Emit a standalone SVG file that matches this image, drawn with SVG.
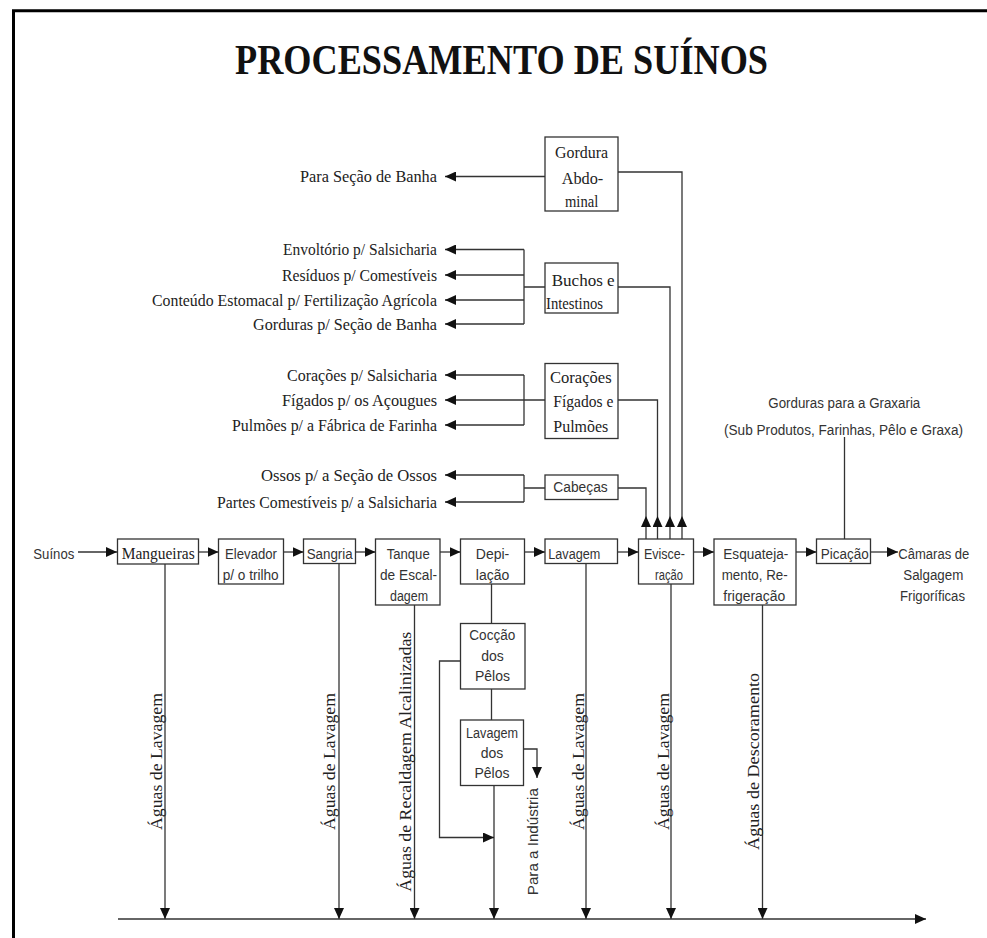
<svg xmlns="http://www.w3.org/2000/svg" width="987" height="938" viewBox="0 0 987 938">
<style>
.bx{fill:#fff;stroke:#333;stroke-width:1.3}
.ln{fill:none;stroke:#333;stroke-width:1.3}
.ar{fill:none;stroke:#333;stroke-width:1.3;marker-end:url(#ah)}
.s{font-family:"Liberation Sans",Arial,sans-serif;font-size:14px;fill:#333}
.r{font-family:"Liberation Serif","Times New Roman",serif;font-size:16.5px;fill:#222}
.e{text-anchor:end}
.m{text-anchor:middle}
</style>
<defs>
<marker id="ah" markerWidth="11" markerHeight="10" refX="11" refY="5" orient="auto" markerUnits="userSpaceOnUse"><path d="M0,0 L11,5 L0,10 z" fill="#111"/></marker>
</defs>
<rect width="987" height="938" fill="#fff"/>
<path d="M13.5,938 V10.8 H987" fill="none" stroke="#000" stroke-width="3"/>
<text x="235" y="73.5" textLength="533" lengthAdjust="spacingAndGlyphs" style="font-family:'Liberation Serif','Times New Roman',serif;font-weight:bold;font-size:43px;fill:#111">PROCESSAMENTO DE SUÍNOS</text>

<g id="connectors">
<path class="ar" d="M78,552 H117"/>
<path class="ar" d="M198,552 H218.5"/>
<path class="ar" d="M283.5,552 H303.5"/>
<path class="ar" d="M355.5,552 H375.5"/>
<path class="ar" d="M440,552 H460.5"/>
<path class="ar" d="M524.5,552 H545"/>
<path class="ar" d="M617.5,552 H638.5"/>
<path class="ar" d="M693.5,552 H714"/>
<path class="ar" d="M796,552 H816.5"/>
<path class="ar" d="M870.5,552 H898"/>
<path class="ar" d="M165,564 V919"/>
<path class="ar" d="M339,563.5 V919"/>
<path class="ar" d="M414.5,605 V919"/>
<path class="ar" d="M494,785.5 V919"/>
<path class="ar" d="M586,563.5 V919"/>
<path class="ar" d="M671,584 V919"/>
<path class="ar" d="M762.5,605 V919"/>
<path class="ar" d="M118,919 H926"/>
<path class="ln" d="M491.5,584 V623.5"/>
<path class="ln" d="M491.5,689 V720"/>
<path class="ar" d="M460.5,661 H439.5 V837.5 H494"/>
<path class="ar" d="M523.5,749 H537 V778"/>
<path class="ln" d="M844.5,539 V437"/>
<path class="ar" d="M545,176.5 H445"/>
<path class="ln" d="M545,287 H524 M524,249.5 V324"/>
<path class="ar" d="M524,249.5 H445"/>
<path class="ar" d="M524,275 H445"/>
<path class="ar" d="M524,300 H445"/>
<path class="ar" d="M524,324 H445"/>
<path class="ln" d="M524,375 V425"/>
<path class="ar" d="M545,400 H445"/>
<path class="ar" d="M524,375 H445"/>
<path class="ar" d="M524,425 H445"/>
<path class="ln" d="M545,488 H524 M524,475 V502"/>
<path class="ar" d="M524,475 H445"/>
<path class="ar" d="M524,502 H445"/>
<path class="ln" d="M618,172 H682 V516"/>
<path class="ar" d="M682,539 V516"/>
<path class="ln" d="M618,287 H670 V516"/>
<path class="ar" d="M670,539 V516"/>
<path class="ln" d="M618,400 H657.5 V516"/>
<path class="ar" d="M657.5,539 V516"/>
<path class="ln" d="M618,488 H646 V516"/>
<path class="ar" d="M646,539 V516"/>
</g>

<g id="suinos"><text class="s" x="33.3" y="559" textLength="41" lengthAdjust="spacingAndGlyphs">Suínos</text></g>
<g id="mangueiras"><rect class="bx" x="117.5" y="539" width="81" height="25"/><text class="r" x="121.7" y="559" textLength="73" lengthAdjust="spacingAndGlyphs">Mangueiras</text></g>
<g id="elevador"><rect class="bx" x="218.5" y="539" width="65" height="45"/><text class="s" x="225" y="559" textLength="52" lengthAdjust="spacingAndGlyphs">Elevador</text><text class="s" x="222.7" y="580" textLength="56" lengthAdjust="spacingAndGlyphs">p/ o trilho</text></g>
<g id="sangria"><rect class="bx" x="303.5" y="539" width="52" height="24.5"/><text class="s" x="306.7" y="559" textLength="46" lengthAdjust="spacingAndGlyphs">Sangria</text></g>
<g id="tanque"><rect class="bx" x="375.5" y="539" width="64.5" height="66"/><text class="s" x="386.7" y="559" textLength="43" lengthAdjust="spacingAndGlyphs">Tanque</text><text class="s" x="380" y="580" textLength="57" lengthAdjust="spacingAndGlyphs">de Escal-</text><text class="s" x="390" y="600.5" textLength="38" lengthAdjust="spacingAndGlyphs">dagem</text></g>
<g id="depilacao"><rect class="bx" x="460.5" y="539" width="64" height="45"/><text class="s m" x="492.5" y="559">Depi-</text><text class="s m" x="492.5" y="580">lação</text></g>
<g id="lavagem"><rect class="bx" x="545" y="539" width="72.5" height="24.5"/><text class="s" x="548.3" y="559" textLength="52" lengthAdjust="spacingAndGlyphs">Lavagem</text></g>
<g id="evisceracao"><rect class="bx" x="638.5" y="539" width="55" height="45"/><text class="s" x="644" y="559" textLength="41" lengthAdjust="spacingAndGlyphs">Evisce-</text><text class="s" x="655" y="580" textLength="28" lengthAdjust="spacingAndGlyphs">ração</text></g>
<g id="esquatejamento"><rect class="bx" x="714" y="539" width="82" height="66"/><text class="s" x="723.3" y="559" textLength="65" lengthAdjust="spacingAndGlyphs">Esquateja-</text><text class="s" x="721.7" y="580" textLength="66" lengthAdjust="spacingAndGlyphs">mento, Re-</text><text class="s" x="723.3" y="600.5" textLength="62" lengthAdjust="spacingAndGlyphs">frigeração</text></g>
<g id="picacao"><rect class="bx" x="816.5" y="539" width="54" height="24.5"/><text class="s" x="820.7" y="559" textLength="48" lengthAdjust="spacingAndGlyphs">Picação</text></g>
<g id="camaras"><text class="s" x="898.3" y="559" textLength="71" lengthAdjust="spacingAndGlyphs">Câmaras de</text><text class="s" x="903.3" y="580" textLength="60" lengthAdjust="spacingAndGlyphs">Salgagem</text><text class="s" x="900" y="600.5" textLength="65" lengthAdjust="spacingAndGlyphs">Frigoríficas</text></g>
<g id="graxaria"><text class="s" x="768.3" y="408" textLength="152" lengthAdjust="spacingAndGlyphs">Gorduras para a Graxaria</text><text class="s" x="724" y="435" textLength="239" lengthAdjust="spacingAndGlyphs">(Sub Produtos, Farinhas, Pêlo e Graxa)</text></g>
<g id="coccao"><rect class="bx" x="460.5" y="623.5" width="64.5" height="65.5"/><text class="s" x="469.3" y="640" textLength="46" lengthAdjust="spacingAndGlyphs">Cocção</text><text class="s m" x="492.5" y="660.5">dos</text><text class="s m" x="492.5" y="680.5">Pêlos</text></g>
<g id="lavagem-pelos"><rect class="bx" x="460.5" y="720" width="63" height="65.5"/><text class="s" x="466" y="737.5" textLength="52" lengthAdjust="spacingAndGlyphs">Lavagem</text><text class="s m" x="492" y="757.5">dos</text><text class="s m" x="492" y="777.5">Pêlos</text></g>
<g id="gordura"><rect class="bx" x="545" y="137" width="73" height="74"/><text class="r" x="555" y="158" textLength="53" lengthAdjust="spacingAndGlyphs">Gordura</text><text class="r" x="561.7" y="184" textLength="41.6" lengthAdjust="spacingAndGlyphs">Abdo-</text><text class="r" x="565" y="207" textLength="33.3" lengthAdjust="spacingAndGlyphs">minal</text></g>
<g id="buchos"><rect class="bx" x="545" y="263" width="73" height="50"/><text class="r" x="551.7" y="286" textLength="63" lengthAdjust="spacingAndGlyphs">Buchos e</text><text class="r" x="546" y="309" textLength="57" lengthAdjust="spacingAndGlyphs">Intestinos</text></g>
<g id="coracoes"><rect class="bx" x="545" y="363.5" width="73" height="75"/><text class="r" x="550" y="383" textLength="61.7" lengthAdjust="spacingAndGlyphs">Corações</text><text class="r" x="553.3" y="407" textLength="60" lengthAdjust="spacingAndGlyphs">Fígados e</text><text class="r" x="553.3" y="432" textLength="55" lengthAdjust="spacingAndGlyphs">Pulmões</text></g>
<g id="cabecas"><rect class="bx" x="545" y="475" width="73" height="24.5"/><text class="s" x="553.3" y="492" textLength="54.4" lengthAdjust="spacingAndGlyphs">Cabeças</text></g>

<g id="labels">
<text class="r e" x="437" y="182" textLength="137" lengthAdjust="spacingAndGlyphs">Para Seção de Banha</text>
<text class="r e" x="437" y="255" textLength="154" lengthAdjust="spacingAndGlyphs">Envoltório p/ Salsicharia</text>
<text class="r e" x="437" y="280.5" textLength="155" lengthAdjust="spacingAndGlyphs">Resíduos p/ Comestíveis</text>
<text class="r e" x="437" y="305.5" textLength="285" lengthAdjust="spacingAndGlyphs">Conteúdo Estomacal p/ Fertilização Agrícola</text>
<text class="r e" x="437" y="329.5" textLength="184" lengthAdjust="spacingAndGlyphs">Gorduras p/ Seção de Banha</text>
<text class="r e" x="437" y="380.5" textLength="150" lengthAdjust="spacingAndGlyphs">Corações p/ Salsicharia</text>
<text class="r e" x="437" y="405.5" textLength="155" lengthAdjust="spacingAndGlyphs">Fígados p/ os Açougues</text>
<text class="r e" x="437" y="430.5" textLength="205" lengthAdjust="spacingAndGlyphs">Pulmões p/ a Fábrica de Farinha</text>
<text class="r e" x="437" y="480.5" textLength="176" lengthAdjust="spacingAndGlyphs">Ossos p/ a Seção de Ossos</text>
<text class="r e" x="437" y="507.5" textLength="220" lengthAdjust="spacingAndGlyphs">Partes Comestíveis p/ a Salsicharia</text>
<text class="r m" transform="translate(162,761.5) rotate(-90)" textLength="137" lengthAdjust="spacingAndGlyphs">Águas de Lavagem</text>
<text class="r m" transform="translate(335,761.5) rotate(-90)" textLength="137" lengthAdjust="spacingAndGlyphs">Águas de Lavagem</text>
<text class="r m" transform="translate(411,761.7) rotate(-90)" textLength="260" lengthAdjust="spacingAndGlyphs">Águas de Recaldagem Alcalinizadas</text>
<text class="r m" transform="translate(583.5,761.5) rotate(-90)" textLength="137" lengthAdjust="spacingAndGlyphs">Águas de Lavagem</text>
<text class="r m" transform="translate(668.5,761.5) rotate(-90)" textLength="137" lengthAdjust="spacingAndGlyphs">Águas de Lavagem</text>
<text class="r m" transform="translate(758.5,761.4) rotate(-90)" textLength="177" lengthAdjust="spacingAndGlyphs">Águas de Descoramento</text>
<text class="s m" transform="translate(538,841.7) rotate(-90)" textLength="107" lengthAdjust="spacingAndGlyphs">Para a Indústria</text>
</g>
</svg>
